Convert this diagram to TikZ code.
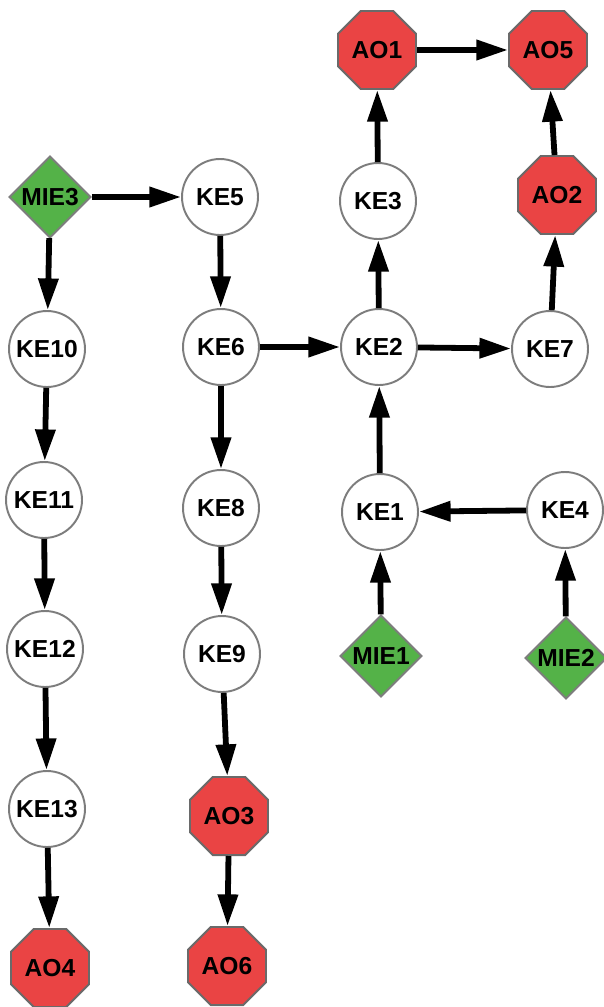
\documentclass[tikz,border=0pt]{standalone}
\usepackage{fontspec}
\setmainfont{Liberation Sans}
\usetikzlibrary{arrows.meta, shapes.geometric}
\definecolor{miegreen}{RGB}{84,178,72}
\definecolor{aored}{RGB}{234,68,68}
\definecolor{edgegray}{RGB}{125,125,125}
\tikzset{
    kecircle/.style={draw=edgegray, fill=white, circle, line width=1.1pt, minimum size=1.52cm, inner sep=0pt},
    miediamond/.style={draw=edgegray, fill=miegreen, diamond, line width=1.1pt, minimum size=1.64cm, inner sep=0pt},
    aooctagon/.style={draw=edgegray!85!black, fill=aored, regular polygon, regular polygon sides=8, line width=1.1pt, minimum size=1.69cm, inner sep=0pt},
    link/.style={->, line width=3.3pt}
}
\begin{document}
\begin{tikzpicture}[x=0.02cm, y=-0.02cm, >={Triangle[length=18pt, width=11pt]}, font=\fontsize{14}{16}\selectfont\bfseries]
	\useasboundingbox (0,0) rectangle (603,1007);
	\node(AO1)[aooctagon] at (377,50) {AO1};
	\node(AO5)[aooctagon] at (548,50) {AO5};
	\node(MIE3)[miediamond] at (50,197) {MIE3};
	\node(KE5)[kecircle] at (220,197) {KE5};
	\node(KE3)[kecircle] at (378,201) {KE3};
	\node(AO2)[aooctagon] at (557,195) {AO2};
	\node(KE10)[kecircle] at (47,349) {KE10};
	\node(KE6)[kecircle] at (221,347) {KE6};
	\node(KE2)[kecircle] at (379,347) {KE2};
	\node(KE7)[kecircle] at (550,349) {KE7};
	\node(KE11)[kecircle] at (44,500) {KE11};
	\node(KE8)[kecircle] at (221,508) {KE8};
	\node(KE1)[kecircle] at (380,512) {KE1};
	\node(KE4)[kecircle] at (565,510) {KE4};
	\node(KE12)[kecircle] at (45,649) {KE12};
	\node(KE9)[kecircle] at (222,654) {KE9};
	\node(MIE1)[miediamond] at (381,656) {MIE1};
	\node(MIE2)[miediamond] at (566,658) {MIE2};
	\node(KE13)[kecircle] at (47,809) {KE13};
	\node(AO3)[aooctagon] at (229,816) {AO3};
	\node(AO4)[aooctagon] at (50,968) {AO4};
	\node(AO6)[aooctagon] at (227,966) {AO6};
	\draw[link](MIE3)--(KE5);
	\draw[link](MIE3)--(KE10);
	\draw[link](KE10)--(KE11);
	\draw[link](KE11)--(KE12);
	\draw[link](KE12)--(KE13);
	\draw[link](KE13)--(AO4);
	\draw[link](KE5)--(KE6);
	\draw[link](KE6)--(KE8);
	\draw[link](KE8)--(KE9);
	\draw[link](KE9)--(AO3);
	\draw[link](AO3)--(AO6);
	\draw[link](KE6)--(KE2);
	\draw[link](KE2)--(KE3);
	\draw[link](KE3)--(AO1);
	\draw[link](AO1)--(AO5);
	\draw[link](KE2)--(KE7);
	\draw[link](KE7)--(AO2);
	\draw[link](AO2)--(AO5);
	\draw[link](KE1)--(KE2);
	\draw[link](KE4)--(KE1);
	\draw[link](MIE1)--(KE1);
	\draw[link](MIE2)--(KE4);
\end{tikzpicture}
\end{document}
